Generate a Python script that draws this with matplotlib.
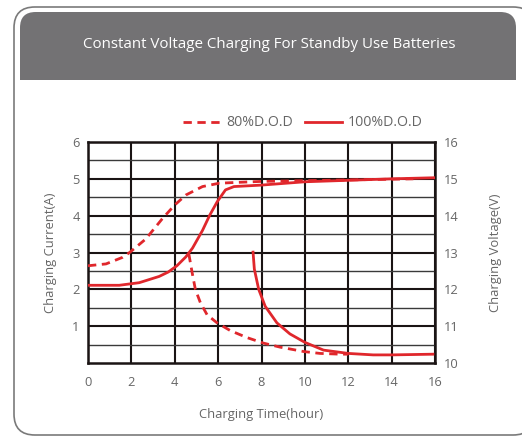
import matplotlib.pyplot as plt
from matplotlib.patches import FancyBboxPatch, Rectangle

# voltage curves (right axis, volts)
v80_x = [0.0, 0.83, 1.6, 1.94, 2.67, 3.43, 4.0, 4.51, 5.28, 6.04, 6.73, 8.0, 10.0, 12.0, 14.0, 15.0]
v80_y = [12.64, 12.69, 12.87, 13.01, 13.37, 13.92, 14.29, 14.56, 14.79, 14.88, 14.90, 14.93, 14.95, 14.97, 14.99, 15.0]
v100_x = [0.0, 1.44, 2.36, 3.28, 3.7, 4.1, 4.51, 4.82, 5.28, 5.61, 5.96, 6.34, 6.73, 8.0, 10.0, 12.0, 14.0, 16.0]
v100_y = [12.11, 12.11, 12.18, 12.35, 12.47, 12.64, 12.88, 13.12, 13.60, 14.01, 14.38, 14.70, 14.79,
          14.83, 14.92, 14.96, 15.0, 15.03]

# current curves (left axis, amps)
i80_x = [4.65, 4.8, 4.95, 5.18, 5.49, 5.95, 6.56, 7.33, 8.09, 8.86, 9.96, 10.7, 11.6, 12.0]
i80_y = [2.96, 2.46, 2.0, 1.64, 1.31, 1.09, 0.88, 0.69, 0.54, 0.43, 0.31, 0.26, 0.24, 0.24]
i100_x = [7.61, 7.67, 7.87, 8.17, 8.71, 9.31, 10.0, 10.86, 12.0, 13.15, 14.0, 16.0]
i100_y = [3.01, 2.55, 2.0, 1.54, 1.09, 0.79, 0.56, 0.35, 0.26, 0.22, 0.22, 0.24]

x_ticks = [0, 2, 4, 6, 8, 10, 12, 14, 16]
left_ticks = [1, 2, 3, 4, 5, 6]
right_ticks = [10, 11, 12, 13, 14, 15, 16]

red = "#e0272c"
txt = "#666666"
plt.rcParams["font.family"] = ["Open Sans", "DejaVu Sans"]

fig = plt.figure(figsize=(5.22, 4.37), dpi=100)

# card border and title banner
fig.patches.append(FancyBboxPatch((14 / 522, 2 / 437), 520 / 522, 428 / 437,
                                  boxstyle="round,pad=0,rounding_size=0.04",
                                  transform=fig.transFigure, fc="white", ec="#7a7a7a", lw=1.2,
                                  mutation_aspect=522 / 437, zorder=-3))
fig.patches.append(FancyBboxPatch((20 / 522, 357 / 437), 496 / 522, 68 / 437,
                                  boxstyle="round,pad=0,rounding_size=0.03",
                                  transform=fig.transFigure, fc="#737274", ec="none",
                                  mutation_aspect=522 / 437, zorder=-2))
fig.patches.append(Rectangle((20 / 522, 357 / 437), 496 / 522, 30 / 437,
                             transform=fig.transFigure, fc="#737274", ec="none", zorder=-2))
fig.text(269 / 522, 1 - 44 / 437, "Constant Voltage Charging For Standby Use Batteries",
         ha="center", va="center", color="white", fontsize=10.9)

ax = fig.add_axes([88 / 522, 1 - 363 / 437, 347 / 522, 221 / 437])
ax.set_xlim(0, 16)
ax.set_ylim(0, 6)
ax.set_xticks(x_ticks)
ax.set_yticks(left_ticks)
ax.set_yticks([0.5, 1.5, 2.5, 3.5, 4.5, 5.5], minor=True)
ax.grid(True, which="major", color="#1a1414", lw=1.5)
ax.grid(True, which="minor", axis="y", color="#3a3a3a", lw=1.0)
ax.tick_params(which="both", length=0, colors=txt, labelsize=9.3)
ax.tick_params(axis="x", pad=9)
ax.tick_params(axis="y", pad=6)
for s in ax.spines.values():
    s.set_color("#1a1414")
    s.set_linewidth(1.8)
ax.set_axisbelow(True)
ax.set_xlabel("Charging Time(hour)", color=txt, fontsize=9.4, labelpad=14)
ax.set_ylabel("Charging Current(A)", color=txt, fontsize=9.4, labelpad=11)

ax2 = ax.twinx()
ax2.set_ylim(10, 16)
ax2.set_yticks(right_ticks)
ax2.tick_params(length=0, colors=txt, labelsize=9.3, pad=6.5)
for s in ax2.spines.values():
    s.set_visible(False)
ax2.set_ylabel("Charging Voltage(V)", color=txt, fontsize=9.4, labelpad=22)

ax2.plot(v80_x, v80_y, color=red, lw=2.0, ls=(0, (3, 2)))
ax2.plot(v100_x, v100_y, color=red, lw=2.0)
ax.plot(i80_x, i80_y, color=red, lw=2.0, ls=(0, (3, 2)), label="80%D.O.D")
ax.plot(i100_x, i100_y, color=red, lw=2.0, label="100%D.O.D")

ax.legend(loc="center", bbox_to_anchor=(0.62, 1 + 19 / 221), ncol=2, frameon=False,
          fontsize=10.2, labelcolor=txt, handlelength=2.6, columnspacing=0.9,
          handletextpad=0.4, borderaxespad=0, borderpad=0)

fig.savefig("out.png", dpi=100)
